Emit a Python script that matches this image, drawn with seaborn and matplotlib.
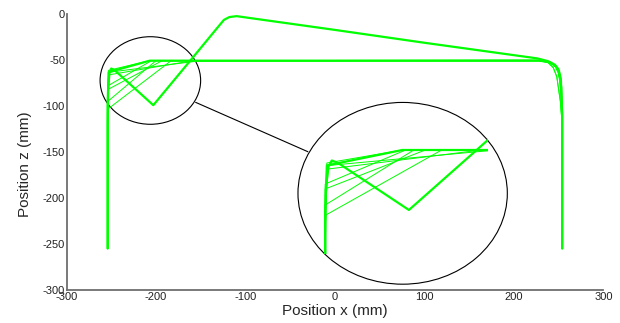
import pandas as pd
import matplotlib
matplotlib.use("Agg")
import matplotlib.pyplot as plt
from matplotlib.patches import Ellipse
import seaborn as sns

# trajectories (mm)
# thick "V" path
v_x = [-254, -254, -253.5, -252, -250, -248, -245, -203, -163, -130, -124, -118, -110, 0, 100, 200, 226, 238, 246, 250, 252.5, 254, 254]
v_z = [-255, -120, -80, -64, -59, -60, -62, -99, -52, -13, -6, -3, -2, -17, -31, -44.5, -48, -51, -55, -60, -70, -110, -255]

# thick horizontal path
h_x = [-254, -254, -253, -207, 228, 240, 247, 250.5, 253, 254, 254]
h_z = [-255, -100, -63, -50.5, -50.5, -52, -57, -64, -80, -110, -255]

# thin repeats
thin_x = [
    [-254, -254, -253, -207, 228, 240, 247, 250.5, 253, 254, 254],
    [-254, -254, -252, -150, 226, 236, 245, 249, 251.5, 254, 254],
    [-254, -254, -253, -162, 228, 238, 244, 248, 252, 254, 254],
    [-254, -254, -254, -205, 228, 240, 247, 250.5, 253, 254, 254],
    [-254, -254, -254, -193, 226, 236, 245, 249, 251.5, 254, 254],
    [-254, -254, -254, -200, 228, 238, 244, 248, 252, 254, 254],
    [-254, -254, -253.5, -183, 228, 240, 246, 249.5, 252.5, 254, 254],
]
thin_z = [
    [-255, -100, -61, -50.5, -50.5, -52, -57, -64, -80, -110, -255],
    [-255, -100, -63, -50.5, -50, -51, -55, -60, -72, -105, -255],
    [-255, -100, -66, -51, -50.5, -52.5, -58, -68, -95, -120, -255],
    [-255, -100, -78, -50.5, -50.5, -52, -57, -64, -80, -110, -255],
    [-255, -100, -82, -50.5, -50, -51, -55, -60, -72, -105, -255],
    [-255, -110, -95, -50.5, -50.5, -52.5, -58, -68, -95, -120, -255],
    [-255, -110, -103, -50.5, -50.5, -52, -56, -62, -76, -112, -255],
]

green = "#00ff00"

thick_df = pd.concat([
    pd.DataFrame({"x": v_x, "z": v_z, "path": "v"}),
    pd.DataFrame({"x": h_x, "z": h_z, "path": "h"}),
], ignore_index=True)
thin_df = pd.concat([
    pd.DataFrame({"x": xs, "z": zs, "path": i}) for i, (xs, zs) in enumerate(zip(thin_x, thin_z))
], ignore_index=True)

sns.set_style("white")
plt.rcParams["font.family"] = ["Liberation Sans", "DejaVu Sans"]
plt.rcParams["axes.unicode_minus"] = False

fig = plt.figure(figsize=(6.2, 3.23), dpi=100)
ax = fig.add_axes([0.1073, 0.1031, 0.8658, 0.8526])


def draw(a, thick_lw, thin_lw):
    sns.lineplot(data=thin_df, x="x", y="z", units="path", estimator=None, sort=False,
                 color=green, lw=thin_lw, ax=a, legend=False)
    sns.lineplot(data=thick_df, x="x", y="z", units="path", estimator=None, sort=False,
                 color=green, lw=thick_lw, ax=a, legend=False)


draw(ax, 1.6, 0.7)
ax.set_xlim(-300, 300)
ax.set_ylim(-300, 0)
ax.set_xticks([-300, -200, -100, 0, 100, 200, 300])
ax.set_yticks([-300, -250, -200, -150, -100, -50, 0])
sns.despine(ax=ax)
for s in ["left", "bottom"]:
    ax.spines[s].set_color("#6e6e6e")
    ax.spines[s].set_linewidth(1.3)
ax.tick_params(direction="in", length=3.5, width=1, color="#6e6e6e", labelsize=8,
               labelcolor="#222222", pad=2)
ax.tick_params(axis="y", pad=1)
ax.set_xlabel("Position x (mm)", fontsize=11)
ax.set_ylabel("Position z (mm)", fontsize=11)
ax.xaxis.set_label_coords(0.5, -0.052)
ax.yaxis.set_label_coords(-0.064, 0.456)

# magnifier circles
ax.add_patch(Ellipse((-206.3, -72.1), 112.4, 95.4, fill=False, ec="black", lw=0.8, clip_on=False))
ax.add_patch(Ellipse((75.7, -195), 234, 198, fill=False, ec="black", lw=0.8, clip_on=False))
ax.plot([-155.7, -30.2], [-95.9, -149.7], color="black", lw=0.8)

# zoomed view
ax_in = fig.add_axes([0.4795, 0.2121, 0.3071, 0.4709])
draw(ax_in, 1.6, 0.7)
ax_in.set_xlim(-271, -155)
ax_in.set_ylim(-135, -12)
ax_in.axis("off")

fig.savefig("out.png", dpi=100)
